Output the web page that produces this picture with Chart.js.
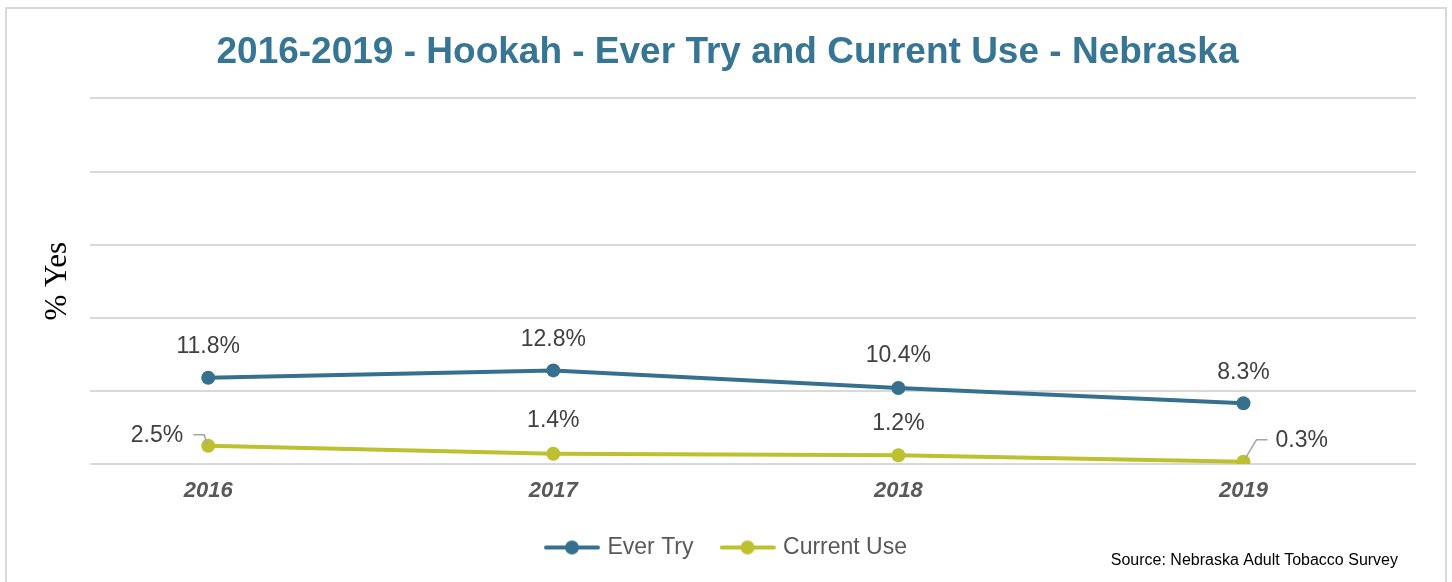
<!DOCTYPE html>
<html>
<head>
<meta charset="utf-8">
<script src="https://cdn.jsdelivr.net/npm/chart.js@4/dist/chart.umd.min.js"></script>
<style>
  html, body { margin: 0; padding: 0; background: #fff; }
  #wrap { width: 1452px; height: 582px; position: relative; }
</style>
</head>
<body>
<div id="wrap"><canvas id="chart" width="1452" height="582"></canvas></div>
<script>
// ─── Data ──────────────────────────────────────────────
const years      = [2016, 2017, 2018, 2019];
const everTry    = [11.8, 12.8, 10.4, 8.3];
const currentUse = [2.5, 1.4, 1.2, 0.3];

const BLUE  = '#35718f';
const OLIVE = '#bdc12f';

// label offsets per point [dx, dy, align], leader lines in px relative to the point
const labelPos = [
  [[0, -31, 'center'], [0, -31, 'center'], [0, -32, 'center'], [0, -31, 'center']],
  [[-25, -10, 'right'], [0, -33, 'center'], [0, -32, 'center'], [32, -21, 'left']],
];
const leaders = [
  [null, null, null, null],
  [[[-15, -11], [-4, -11], [-1, -1]], null, null, [[24, -22], [13, -22], [1, -2]]],
];

// ─── Legend icons (line with dot) ──────────────────────
function legendIcon(color) {
  const c = document.createElement('canvas');
  c.width = 56; c.height = 16;
  const g = c.getContext('2d');
  g.strokeStyle = color; g.lineWidth = 4; g.lineCap = 'round';
  g.beginPath(); g.moveTo(2, 8); g.lineTo(54, 8); g.stroke();
  g.fillStyle = color;
  g.beginPath(); g.arc(28, 8, 7, 0, Math.PI * 2); g.fill();
  return c;
}
const icons = [legendIcon(BLUE), legendIcon(OLIVE)];

// ─── Plugins ───────────────────────────────────────────
const framePlugin = {
  id: 'frame',
  beforeDraw(chart) {
    const ctx = chart.ctx;
    ctx.save();
    ctx.strokeStyle = '#d9d9d9';
    ctx.lineWidth = 2;
    ctx.strokeRect(6, 8, 1440, 600);
    ctx.restore();
  },
  afterDraw(chart) {
    const ctx = chart.ctx;
    ctx.save();
    ctx.font = '16px "Liberation Sans", Arial, sans-serif';
    ctx.fillStyle = '#000';
    ctx.textAlign = 'right';
    ctx.textBaseline = 'middle';
    ctx.fillText('Source: Nebraska Adult Tobacco Survey', 1398, 561);
    ctx.restore();
  },
};

const labelPlugin = {
  id: 'pointLabels',
  afterDatasetsDraw(chart) {
    const ctx = chart.ctx;
    ctx.save();
    ctx.font = '23px "Liberation Sans", Arial, sans-serif';
    ctx.fillStyle = '#404040';
    ctx.textBaseline = 'middle';
    chart.data.datasets.forEach((ds, di) => {
      chart.getDatasetMeta(di).data.forEach((pt, i) => {
        const [dx, dy, align] = labelPos[di][i];
        ctx.textAlign = align;
        ctx.fillText(ds.data[i].y.toFixed(1) + '%', pt.x + dx, pt.y + dy);
        const lead = leaders[di][i];
        if (lead) {
          ctx.strokeStyle = '#a6a6a6';
          ctx.lineWidth = 1.5;
          ctx.beginPath();
          lead.forEach(([lx, ly], k) => {
            if (k === 0) ctx.moveTo(pt.x + lx, pt.y + ly);
            else ctx.lineTo(pt.x + lx, pt.y + ly);
          });
          ctx.stroke();
        }
      });
    });
    ctx.restore();
  },
};

// ─── Chart ─────────────────────────────────────────────
new Chart(document.getElementById('chart'), {
  type: 'line',
  data: {
    datasets: [
      {
        label: 'Ever Try',
        data: years.map((y, i) => ({ x: y, y: everTry[i] })),
        borderColor: BLUE,
        backgroundColor: BLUE,
        borderWidth: 4,
        pointRadius: 7,
        pointBackgroundColor: BLUE,
        pointBorderWidth: 0,
      },
      {
        label: 'Current Use',
        data: years.map((y, i) => ({ x: y, y: currentUse[i] })),
        borderColor: OLIVE,
        backgroundColor: OLIVE,
        borderWidth: 4,
        pointRadius: 7,
        pointBackgroundColor: OLIVE,
        pointBorderWidth: 0,
      },
    ],
  },
  options: {
    responsive: false,
    animation: false,
    layout: { padding: { left: 39, right: 36, top: 12, bottom: 13 } },
    plugins: {
      tooltip: { enabled: false },
      title: {
        display: true,
        text: '2016-2019 - Hookah - Ever Try and Current Use - Nebraska',
        color: '#377594',
        font: { family: '"Liberation Sans", Arial, sans-serif', size: 37, weight: 'bold' },
        padding: { top: 19, bottom: 23 },
      },
      legend: {
        position: 'bottom',
        labels: {
          usePointStyle: true,
          pointStyleWidth: 48,
          padding: 30,
          color: '#595959',
          font: { family: '"Liberation Sans", Arial, sans-serif', size: 23 },
          generateLabels: chart => chart.data.datasets.map((ds, i) => ({
            text: ds.label,
            pointStyle: icons[i],
            fontColor: '#595959',
            fillStyle: 'transparent',
            strokeStyle: 'transparent',
            lineWidth: 0,
            hidden: false,
            datasetIndex: i,
          })),
        },
      },
    },
    scales: {
      x: {
        type: 'linear',
        min: 2015.658,
        max: 2019.5,
        afterBuildTicks: scale => { scale.ticks = years.map(v => ({ value: v })); },
        afterFit: scale => { scale.height = 42; },
        grid: { display: false, drawTicks: false },
        border: { display: false },
        ticks: {
          padding: 14,
          color: '#595959',
          font: { family: '"Liberation Sans", Arial, sans-serif', size: 22, weight: 'bold', style: 'italic' },
          callback: v => String(v),
        },
      },
      y: {
        min: 0,
        max: 50,
        ticks: { display: false, stepSize: 10 },
        grid: { color: '#d9d9d9', lineWidth: 2, drawTicks: false },
        border: { display: false },
        title: {
          display: true,
          text: '% Yes',
          color: '#000',
          font: { family: '"Liberation Serif", "Times New Roman", serif', size: 31 },
          padding: { top: 0, bottom: 14 },
        },
      },
    },
  },
  plugins: [framePlugin, labelPlugin],
});
</script>
</body>
</html>
